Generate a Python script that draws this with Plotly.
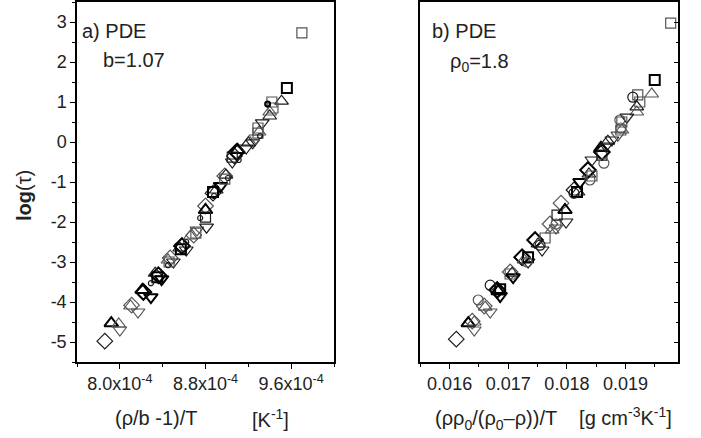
import plotly.graph_objects as go

# ---------------- data: panel a ----------------
# style codes: 0 = gray thin, 1 = black thin, 2 = black bold
a_dia_x = [7.86e-4, 8.11e-4, 8.22e-4, 8.36e-4, 8.47e-4, 8.58e-4, 8.69e-4, 8.80e-4, 8.87e-4, 8.98e-4, 9.07e-4, 9.09e-4]
a_dia_y = [-4.98, -4.08, -3.75, -3.33, -2.90, -2.60, -2.33, -1.60, -1.28, -0.85, -0.35, -0.25]
a_dia_s = [1, 0, 2, 2, 0, 2, 0, 0, 1, 0, 1, 2]

a_tu_x = [7.92e-4, 7.99e-4, 8.10e-4, 8.21e-4, 8.33e-4, 8.45e-4, 8.56e-4, 8.66e-4, 8.80e-4, 8.90e-4, 8.99e-4, 9.10e-4, 9.20e-4, 9.30e-4, 9.40e-4, 9.40e-4, 9.51e-4]
a_tu_y = [-4.53, -4.55, -4.10, -3.70, -3.28, -2.95, -2.65, -2.35, -1.70, -1.20, -0.83, -0.20, -0.02, 0.25, 0.65, 0.75, 1.02]
a_tu_s = [2, 0, 0, 2, 1, 0, 1, 0, 2, 1, 1, 2, 1, 0, 1, 0, 1]

a_td_x = [8.00e-4, 8.17e-4, 8.29e-4, 8.39e-4, 8.50e-4, 8.62e-4, 8.72e-4, 8.81e-4, 8.94e-4, 9.05e-4, 9.18e-4, 9.24e-4, 9.27e-4, 9.33e-4]
a_td_y = [-4.70, -4.25, -3.88, -3.43, -3.00, -2.70, -2.20, -2.13, -1.10, -0.50, -0.15, -0.02, 0.10, 0.48]
a_td_s = [0, 0, 2, 2, 1, 1, 0, 1, 2, 1, 1, 1, 0, 1]

a_sq_x = [8.35e-4, 8.46e-4, 8.57e-4, 8.71e-4, 8.80e-4, 8.87e-4, 8.98e-4, 9.05e-4, 9.29e-4, 9.29e-4, 9.42e-4, 9.43e-4, 9.56e-4, 9.70e-4]
a_sq_y = [-3.38, -3.00, -2.68, -2.28, -1.88, -1.25, -0.93, -0.38, 0.22, 0.35, 1.00, 0.85, 1.35, 2.73]
a_sq_s = [2, 0, 2, 0, 1, 2, 0, 1, 0, 0, 0, 0, 2, 0]

a_ci_x = [8.29e-4, 8.45e-4, 8.62e-4, 8.75e-4, 8.88e-4, 9.01e-4, 9.11e-4, 9.31e-4, 9.38e-4]
a_ci_y = [-3.53, -3.08, -2.50, -1.90, -1.35, -0.90, -0.45, 0.15, 0.95]
a_ci_s = [1, 1, 1, 1, 1, 1, 1, 1, 2]

# ---------------- data: panel b ----------------
b_dia_x = [0.016114, 0.016386, 0.016590, 0.016811, 0.017032, 0.017236, 0.017457, 0.017713, 0.017900, 0.018121, 0.018359, 0.018597]
b_dia_y = [-4.93, -4.48, -4.10, -3.70, -3.25, -2.88, -2.45, -2.05, -1.53, -1.20, -0.70, -0.25]
b_dia_s = [1, 0, 0, 2, 0, 2, 2, 0, 0, 1, 2, 2]

b_tu_x = [0.016318, 0.016420, 0.016607, 0.016828, 0.017066, 0.017270, 0.017508, 0.017747, 0.017968, 0.018189, 0.018376, 0.018580, 0.018699, 0.018937, 0.019192, 0.019192, 0.019447]
b_tu_y = [-4.53, -4.50, -4.13, -3.73, -3.28, -2.95, -2.55, -2.20, -1.70, -1.25, -0.80, -0.15, 0.02, 0.30, 0.88, 0.75, 1.20]
b_tu_s = [2, 0, 0, 2, 1, 0, 1, 0, 2, 1, 1, 2, 1, 0, 1, 0, 0]

b_td_x = [0.016420, 0.016692, 0.016862, 0.017083, 0.017338, 0.017577, 0.017815, 0.017985, 0.018223, 0.018427, 0.018665, 0.018767, 0.018869, 0.019022]
b_td_y = [-4.70, -4.25, -3.85, -3.38, -3.00, -2.70, -2.15, -2.00, -1.00, -0.45, -0.10, 0.05, 0.17, 0.62]
b_td_s = [0, 0, 2, 2, 1, 1, 0, 1, 2, 1, 1, 1, 0, 1]

b_sq_x = [0.016862, 0.017032, 0.017338, 0.017628, 0.017832, 0.018172, 0.018427, 0.018597, 0.018920, 0.018937, 0.019209, 0.019243, 0.019498, 0.019770]
b_sq_y = [-3.68, -3.30, -2.88, -2.40, -1.83, -1.25, -0.85, -0.33, 0.30, 0.50, 1.18, 1.00, 1.55, 2.97]
b_sq_s = [2, 0, 2, 0, 1, 2, 0, 1, 0, 0, 0, 0, 2, 0]

b_ci_x = [0.016488, 0.016692, 0.017321, 0.017543, 0.017815, 0.018121, 0.018393, 0.018631, 0.018920, 0.018903, 0.019124]
b_ci_y = [-3.95, -3.58, -3.00, -2.58, -2.05, -1.28, -0.95, -0.53, 0.35, 0.55, 1.12]
b_ci_s = [0, 1, 0, 1, 0, 1, 0, 0, 0, 0, 1]

# axis ticks
a_tickvals = [8.0e-4, 8.8e-4, 9.6e-4]
a_ticktext = ["8.0x10<sup>-4</sup>", "8.8x10<sup>-4</sup>", "9.6x10<sup>-4</sup>"]
b_tickvals = [0.016, 0.017, 0.018, 0.019]
b_ticktext = ["0.016", "0.017", "0.018", "0.019"]
y_tickvals = [-5, -4, -3, -2, -1, 0, 1, 2, 3]
y_ticktext = ["-5", "-4", "-3", "-2", "-1", "0", "1", "2", "3"]

COL = {0: "#555555", 1: "#1a1a1a", 2: "#000000"}
WID = {0: 1.2, 1: 1.2, 2: 2.0}

fig = go.Figure()

def add(xs, ys, ss, symbol, size, xa, ya):
    fig.add_trace(go.Scatter(
        x=xs, y=ys, mode="markers", xaxis=xa, yaxis=ya, showlegend=False,
        marker=dict(symbol=symbol, size=size, color=[COL[s] for s in ss],
                    line=dict(color=[COL[s] for s in ss], width=[WID[s] for s in ss])),
    ))

for xa, ya, sets in [
    ("x", "y", [(a_dia_x, a_dia_y, a_dia_s, "diamond-open", 12),
                (a_tu_x, a_tu_y, a_tu_s, "triangle-up-open", 12),
                (a_td_x, a_td_y, a_td_s, "triangle-down-open", 12),
                (a_sq_x, a_sq_y, a_sq_s, "square-open", 10)]),
    ("x2", "y2", [(b_dia_x, b_dia_y, b_dia_s, "diamond-open", 12),
                  (b_tu_x, b_tu_y, b_tu_s, "triangle-up-open", 12),
                  (b_td_x, b_td_y, b_td_s, "triangle-down-open", 12),
                  (b_sq_x, b_sq_y, b_sq_s, "square-open", 10)]),
]:
    for xs, ys, ss, sym, sz in sets:
        add(xs, ys, ss, sym, sz, xa, ya)

add(a_ci_x, a_ci_y, a_ci_s, "circle-open", 5, "x", "y")
add(b_ci_x, b_ci_y, b_ci_s, "circle-open", 10, "x2", "y2")

W, H = 701, 438
def dx(p):
    return p / W
def dy(p):
    return 1 - p / H

FONT = "Liberation Sans, Arial, sans-serif"
axcommon = dict(showline=True, linecolor="black", linewidth=1.5, mirror=True,
                showgrid=False, zeroline=False, ticklen=5, tickwidth=1.2, tickcolor="black",
                tickfont=dict(family=FONT, size=18, color="#222"))

fig.update_layout(
    width=W, height=H, margin=dict(l=0, r=0, t=0, b=0),
    paper_bgcolor="white", plot_bgcolor="white",
    xaxis=dict(domain=[dx(77), dx(334)], range=[7.6e-4, 1.0e-3], anchor="y",
               tickvals=a_tickvals, ticktext=a_ticktext, ticks="outside",
               minor=dict(dtick=0.4e-4, tick0=8.0e-4, ticks="outside", ticklen=3, tickcolor="black"),
               **axcommon),
    yaxis=dict(domain=[dy(362), dy(2)], range=[-5.5, 3.5], anchor="x",
               tickvals=y_tickvals, ticktext=y_ticktext, ticks="outside",
               minor=dict(dtick=0.5, tick0=0, ticks="outside", ticklen=3, tickcolor="black"),
               **axcommon),
    xaxis2=dict(domain=[dx(420.3), dx(678.3)], range=[0.0155, 0.0199], anchor="y2",
                tickvals=b_tickvals, ticktext=b_ticktext, ticks="outside",
                minor=dict(dtick=0.0005, tick0=0.016, ticks="outside", ticklen=3, tickcolor="black"),
                **axcommon),
    yaxis2=dict(domain=[dy(362), dy(2)], range=[-5.5, 3.5], anchor="x2", side="right",
                tickvals=y_tickvals, ticks="inside", showticklabels=False,
                minor=dict(dtick=0.5, tick0=0, ticks="inside", ticklen=3, tickcolor="black"),
                **axcommon),
)

def ann(x, y, text, size=20, **kw):
    fig.add_annotation(x=dx(x), y=dy(y), xref="paper", yref="paper", text=text,
                       showarrow=False, font=dict(family=FONT, size=size, color="#222"), **kw)

ann(80, 31, "a) PDE", xanchor="left", yanchor="middle")
ann(101, 60, "b=1.07", xanchor="left", yanchor="middle")
ann(430, 31, "b) PDE", xanchor="left", yanchor="middle")
ann(448, 62, "ρ<sub>0</sub>=1.8", xanchor="left", yanchor="middle")
ann(24, 196, "<b>log</b>(τ)", size=20, textangle=-90, xanchor="center", yanchor="middle")
ann(113, 418, "(ρ/b -1)/T", xanchor="left", yanchor="middle")
ann(250, 418, "[K<sup>-1</sup>]", xanchor="left", yanchor="middle")
ann(553, 418, "(ρρ<sub>0</sub>/(ρ<sub>0</sub>–ρ))/T    [g cm<sup>-3</sup>K<sup>-1</sup>]", xanchor="center", yanchor="middle")

fig.write_html("out.html")
